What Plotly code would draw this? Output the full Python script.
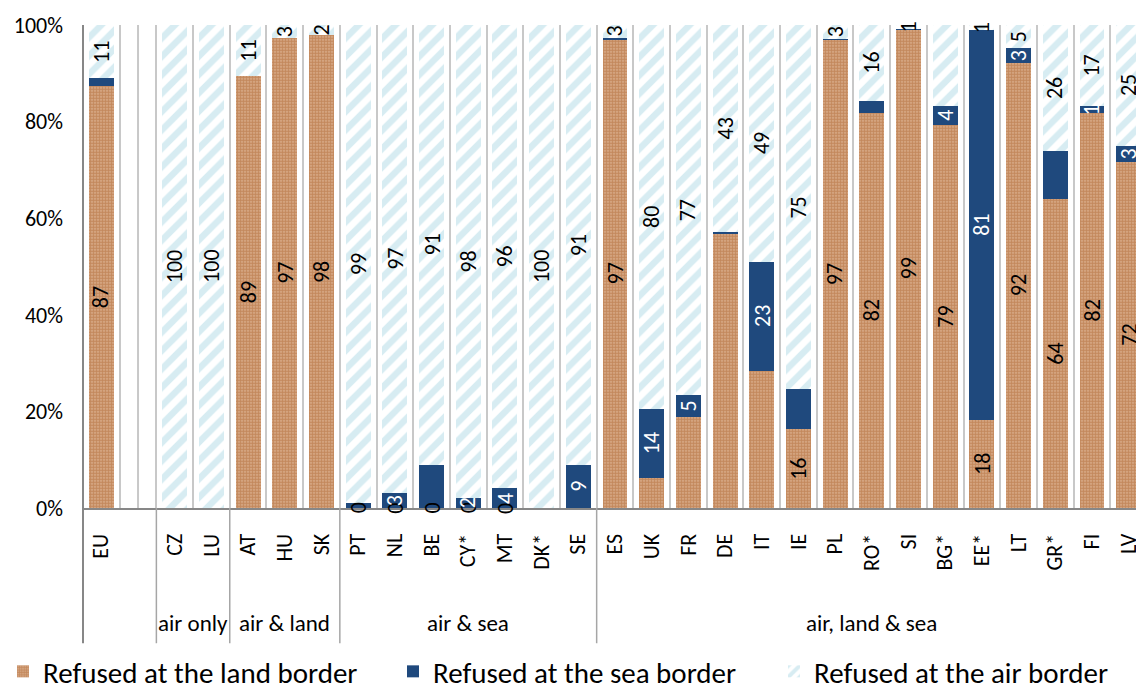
import plotly.graph_objects as go

categories = ["EU", " ", "CZ", "LU", "AT", "HU", "SK", "PT", "NL", "BE", "CY*", "MT", "DK*", "SE",
              "ES", "UK", "FR", "DE", "IT", "IE", "PL", "RO*", "SI", "BG*", "EE*", "LT", "GR*", "FI", "LV"]
land = [87.4, 0, 0, 0, 89.4, 97.3, 97.9, 0, 0, 0, 0, 0, 0, 0,
        97.1, 6.3, 18.8, 56.9, 28.4, 16.4, 96.9, 81.8, 99.0, 79.3, 18.2, 92.1, 64.0, 81.8, 71.6]
sea = [1.6, 0, 0, 0, 0, 0, 0, 1.0, 3.1, 8.9, 2.1, 4.1, 0, 8.9,
       0.2, 14.1, 4.6, 0.3, 22.6, 8.2, 0.2, 2.5, 0.2, 3.9, 80.8, 3.1, 10.0, 1.4, 3.4]
air = [11.0, 0, 100, 100, 10.6, 2.7, 2.1, 99.0, 96.9, 91.1, 97.9, 95.9, 100, 91.1,
       2.7, 79.6, 76.6, 42.8, 49.0, 75.4, 2.9, 15.7, 0.8, 16.8, 1.0, 4.8, 26.0, 16.8, 25.0]
# which data labels are shown (as in the reference)
show_land = [1, 0, 0, 0, 1, 1, 1, 1, 1, 1, 1, 1, 0, 0,
             1, 0, 0, 0, 0, 1, 1, 1, 1, 1, 1, 1, 1, 1, 1]
show_sea = [0, 0, 0, 0, 0, 0, 0, 0, 1, 0, 1, 1, 0, 1,
            0, 1, 1, 0, 1, 0, 0, 0, 0, 1, 1, 1, 0, 1, 1]
show_air = [1, 0, 1, 1, 1, 1, 1, 1, 1, 1, 1, 1, 1, 1,
            1, 1, 1, 1, 1, 1, 1, 1, 1, 0, 1, 1, 1, 1, 1]
groups = ["air only", "air & land", "air & sea", "air, land & sea"]
group_bounds = [(1.5, 3.5), (3.5, 6.5), (6.5, 13.5), (13.5, 28.5)]
y_ticks = [0, 20, 40, 60, 80, 100]
y_tick_labels = [f"{v}%" for v in y_ticks]
series_names = ["Refused at the land border", "Refused at the sea border", "Refused at the air border"]

FONT = "Carlito, Calibri, Lato, sans-serif"
LAND_BG = "#DDB393"
LAND_FG = "#A95F28"
SEA = "#1F497D"
AIR_FG = "#AFDAE6"

fig = go.Figure()
fig.add_trace(go.Bar(
    x=categories, y=land, name=series_names[0], legend="legend",
    marker=dict(color=LAND_BG, line=dict(width=0),
                pattern=dict(shape=".", fgcolor=LAND_FG, bgcolor=LAND_BG, size=3, solidity=0.7)),
))
fig.add_trace(go.Bar(
    x=categories, y=sea, name=series_names[1], legend="legend2",
    marker=dict(color=SEA, line=dict(width=0)),
))
fig.add_trace(go.Bar(
    x=categories, y=air, name=series_names[2], legend="legend3",
    marker=dict(color="white", line=dict(width=0),
                pattern=dict(shape="/", fgcolor=AIR_FG, bgcolor="white", size=13, solidity=0.5)),
))

annotations = []
for i, c in enumerate(categories):
    base = 0
    for vals, show, col in ((land, show_land, "black"), (sea, show_sea, "white"), (air, show_air, "black")):
        v = vals[i]
        if show[i]:
            annotations.append(dict(
                x=c, y=base + v / 2, xref="x", yref="y", text=str(int(round(v))),
                showarrow=False, textangle=-90, font=dict(family=FONT, size=22, color=col),
            ))
        base += v

for name, (a, b) in zip(groups, group_bounds):
    annotations.append(dict(
        x=(a + b) / 2, y=-0.238, xref="x", yref="paper", text=name, showarrow=False,
        font=dict(family=FONT, size=23, color="black"), yanchor="middle",
    ))

shapes = []
shapes.append(dict(type="line", xref="paper", yref="paper", x0=0, x1=0, y0=1, y1=-0.28,
                   line=dict(color="#878787", width=2)))
for a, b in group_bounds[:-1]:
    shapes.append(dict(type="line", xref="x", yref="paper", x0=b, x1=b, y0=0, y1=-0.28,
                       line=dict(color="#A6A6A6", width=1.5)))
shapes.append(dict(type="line", xref="x", yref="paper", x0=1.5, x1=1.5, y0=0, y1=-0.28,
                   line=dict(color="#A6A6A6", width=1.5)))
shapes.append(dict(type="line", xref="x", yref="y", x0=1, x1=1, y0=0, y1=100,
                   line=dict(color="#C8C8C8", width=2), layer="below"))

legend_common = dict(orientation="h", xref="container", yref="container", y=0.024,
                     xanchor="left", yanchor="middle", font=dict(family=FONT, size=29, color="black"),
                     bgcolor="rgba(0,0,0,0)")

fig.update_layout(
    width=1136, height=688,
    margin=dict(l=83, r=0, t=25, b=180, autoexpand=False),
    barmode="stack", bargap=0.32,
    plot_bgcolor="white", paper_bgcolor="white",
    font=dict(family=FONT, size=20, color="black"),
    annotations=annotations, shapes=shapes,
    showlegend=True,
    legend=dict(x=3 / 1136, **legend_common),
    legend2=dict(x=393 / 1136, **legend_common),
    legend3=dict(x=774 / 1136, **legend_common),
)
fig.update_xaxes(
    type="category", categoryorder="array", categoryarray=categories, automargin=False,
    range=[-0.5, 28.2], tickangle=-90, ticks="", showline=True, linecolor="#878787", linewidth=2,
    showgrid=True, gridcolor="#C8C8C8", gridwidth=2, tickson="boundaries",
    tickfont=dict(family=FONT, size=22, color="black"), ticklabelstandoff=15,
)
fig.update_yaxes(
    range=[0, 100], tickmode="array", tickvals=y_ticks, ticktext=y_tick_labels, automargin=False,
    showgrid=False, zeroline=False, showline=False, ticks="",
    tickfont=dict(family=FONT, size=22, color="black"), ticklabelstandoff=19,
)

fig.write_html("out.html", config={"displayModeBar": False},
               post_script="document.body.style.margin='0';document.body.style.padding='0';")
